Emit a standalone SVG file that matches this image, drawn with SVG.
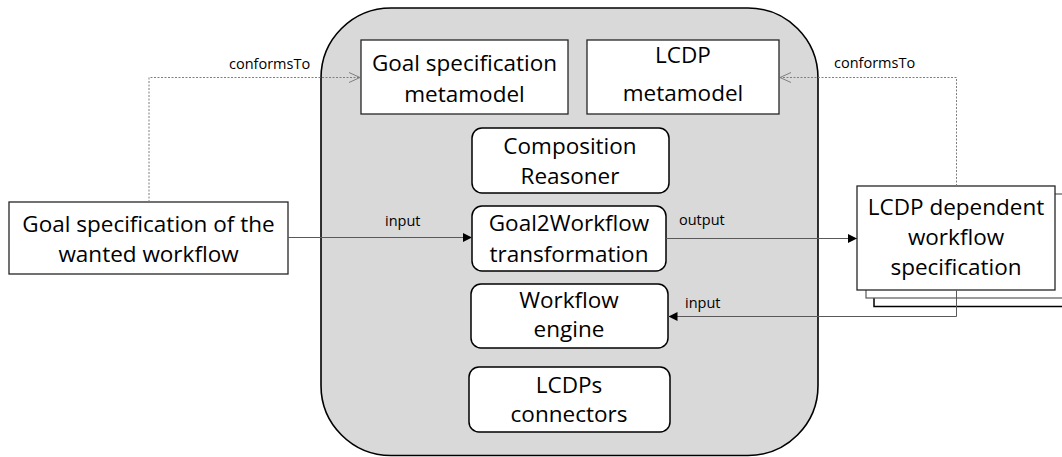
<svg xmlns="http://www.w3.org/2000/svg" width="1062" height="457" viewBox="0 0 1062 457">
<defs>
<style>
.t{font-family:"Open Sans","Noto Sans","Liberation Sans",sans-serif;font-size:22.5px;fill:#000;text-anchor:middle}
.l{font-family:"Open Sans","Noto Sans","Liberation Sans",sans-serif;font-size:14.5px;fill:#000}
.box{fill:#fff;stroke:#262626;stroke-width:1.3}
.rbox{fill:#fff;stroke:#000;stroke-width:1.5}
.solid{fill:none;stroke:#595959;stroke-width:1}
.dot{fill:none;stroke:#7f7f7f;stroke-width:1;stroke-dasharray:2 1.5}
</style>
<marker id="fa" viewBox="0 0 10 10" refX="10" refY="5" markerWidth="9" markerHeight="9" markerUnits="userSpaceOnUse" orient="auto">
<path d="M0,0 L10,5 L0,10 Z" fill="#000"/>
</marker>
<marker id="oa" viewBox="0 0 12 12" refX="11" refY="6" markerWidth="12" markerHeight="12" markerUnits="userSpaceOnUse" orient="auto">
<path d="M0,1 L11,6 L0,11" fill="none" stroke="#7f7f7f" stroke-width="1"/>
</marker>
</defs>
<rect width="1062" height="457" fill="#fff"/>
<g id="container">
<rect x="321" y="8" width="497" height="447.5" rx="70" ry="70" fill="#d9d9d9" stroke="#000" stroke-width="1.6"/>
</g>
<g id="goal-metamodel">
<rect class="box" x="361" y="40" width="207" height="74"/>
<text class="t" x="464.5" y="71">Goal specification</text>
<text class="t" x="464.5" y="102">metamodel</text>
</g>
<g id="lcdp-metamodel">
<rect class="box" x="587" y="40" width="192" height="74"/>
<text class="t" x="683" y="63">LCDP</text>
<text class="t" x="683" y="101">metamodel</text>
</g>
<g id="composition-reasoner">
<rect class="rbox" x="472" y="128" width="197" height="65" rx="10"/>
<text class="t" x="570" y="154">Composition</text>
<text class="t" x="570" y="184">Reasoner</text>
</g>
<g id="goal2workflow">
<rect class="rbox" x="472" y="206" width="194" height="65" rx="10"/>
<text class="t" x="569" y="231">Goal2Workflow</text>
<text class="t" x="569" y="262">transformation</text>
</g>
<g id="workflow-engine">
<rect class="rbox" x="471" y="284" width="197" height="64" rx="10"/>
<text class="t" x="569" y="308">Workflow</text>
<text class="t" x="569" y="337">engine</text>
</g>
<g id="lcdps-connectors">
<rect class="rbox" x="469" y="367" width="201" height="65" rx="10"/>
<text class="t" x="569" y="393">LCDPs</text>
<text class="t" x="569" y="422">connectors</text>
</g>
<g id="goal-spec">
<rect class="box" x="9" y="202" width="279" height="72"/>
<text class="t" x="148.5" y="232">Goal specification of the</text>
<text class="t" x="148.5" y="262">wanted workflow</text>
</g>
<g id="lcdp-dependent">
<rect x="874" y="202" width="200" height="104.5" fill="#fff" stroke="#000" stroke-width="1.5"/>
<rect x="866" y="194" width="210" height="104" fill="#fff" stroke="#595959" stroke-width="1.2"/>
<rect class="box" x="857" y="186" width="198" height="104"/>
<text class="t" x="956" y="215">LCDP dependent</text>
<text class="t" x="956" y="245">workflow</text>
<text class="t" x="956" y="275">specification</text>
</g>
<g id="connectors">
<path class="dot" d="M149,202 V77.5 H360" marker-end="url(#oa)"/>
<path class="dot" d="M956.5,186 V77.5 H780" marker-end="url(#oa)"/>
<path class="solid" d="M288,237.5 H472" marker-end="url(#fa)"/>
<path class="solid" d="M666,238.5 H857" marker-end="url(#fa)"/>
<path class="solid" d="M956.5,290 V316.5 H668.5" marker-end="url(#fa)"/>
<text class="l" x="229" y="69">conformsTo</text>
<text class="l" x="834" y="68">conformsTo</text>
<text class="l" x="385" y="226">input</text>
<text class="l" x="679" y="225">output</text>
<text class="l" x="685" y="308">input</text>
</g>
</svg>
